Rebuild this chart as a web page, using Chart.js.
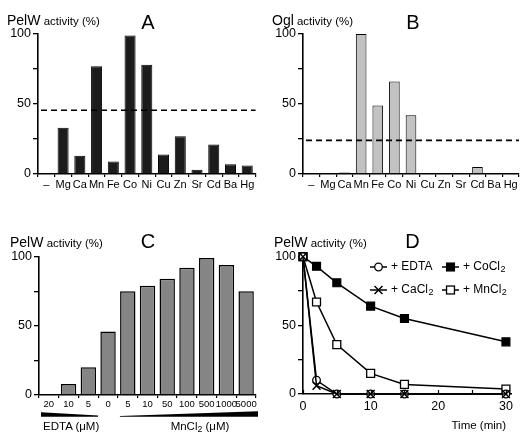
<!DOCTYPE html>
<html><head><meta charset="utf-8">
<script src="https://cdn.jsdelivr.net/npm/chart.js@4.4.0/dist/chart.umd.min.js"></script>
<style>
html,body{margin:0;padding:0;background:#fff;}
#wrap{position:relative;width:527px;height:438px;overflow:hidden;font-family:'Liberation Sans',Arial,sans-serif;color:#000;}
canvas{position:absolute;left:0;top:0;}
.t{position:absolute;white-space:nowrap;line-height:1.15;}
.s{font-size:0.82em;}
.sub{font-size:0.75em;vertical-align:-0.25em;}
</style></head><body>
<div id="wrap">
<canvas id="cA" width="527" height="438"></canvas>
<canvas id="cB" width="527" height="438"></canvas>
<canvas id="cC" width="527" height="438"></canvas>
<canvas id="cD" width="527" height="438"></canvas>
</div>
<script>
// ---------- DATA ----------
const metals = ['–','Mg','Ca','Mn','Fe','Co','Ni','Cu','Zn','Sr','Cd','Ba','Hg'];
const pelwMetal = [0,33,13,77,9,99,78,14,27,3,21,7,6];
const oglMetal = [0,0,1,100,49,66,42,0,0,0.5,5,0,0];
const pelwControl = 45.5;
const oglControl = 24;
const concLabels = ['20','10','5','0','5','10','50','100','500','1000','5000'];
const pelwConc = [0,8,20,46,75,79,84,92,99,94,75];
const timeMin = [0,2,5,10,15,30];
const edta = [100,10,0,0,0,0];
const cacl2 = [100,6,0,0,0,0];
const cocl2 = [100,93,81,64,55,38];
const mncl2 = [100,67,36,15,7,3.6];

const FONT = "'Liberation Sans', Arial, sans-serif";
const W = 527, H = 438;
Chart.defaults.font.family = FONT;
Chart.defaults.color = '#000';

function yAxis(width) {
  return {
    min: 0, max: 100,
    afterFit: s => { s.width = width; },
    ticks: { stepSize: 25, callback: v => (v % 50 === 0 ? v : ''), font: { size: 12.5 }, padding: 2, color:'#000' },
    grid: { drawOnChartArea: false, tickLength: 5, color: '#000', lineWidth: 1.3 },
    border: { color: '#000', width: 1.6 }
  };
}

function thresholdPlugin(value) {
  return {
    id: 'thr',
    afterDatasetsDraw(chart) {
      const y = chart.scales.y.getPixelForValue(value);
      const a = chart.chartArea, ctx = chart.ctx;
      ctx.save();
      ctx.strokeStyle = '#000'; ctx.lineWidth = 1.6; ctx.setLineDash([6, 4]);
      ctx.beginPath(); ctx.moveTo(a.left + 3, y); ctx.lineTo(a.right, y); ctx.stroke();
      ctx.restore();
    }
  };
}

function barChart(id, labels, data, o, extraPlugins) {
  return new Chart(document.getElementById(id), {
    type: 'bar',
    data: { labels, datasets: [{ data, backgroundColor: o.fill, borderColor: '#000', borderWidth: o.bw,
      barPercentage: o.bp, categoryPercentage: 1 }] },
    options: {
      responsive: false, animation: false, devicePixelRatio: 1,
      layout: { padding: { left: 0, top: o.top, right: W - o.right, bottom: H - o.bottom - 22 } },
      plugins: { legend: { display: false }, tooltip: { enabled: false } },
      scales: {
        x: {
          afterFit: s => { s.height = 22; },
          grid: { drawOnChartArea: false, tickLength: 3, color: '#000', lineWidth: 1.2 },
          border: { color: '#000', width: 1.6 },
          ticks: { font: { size: o.xfs }, padding: o.xpad, autoSkip: false, maxRotation: 0, minRotation: 0, color:'#000' }
        },
        y: yAxis(o.left)
      }
    },
    plugins: extraPlugins || []
  });
}

// Panel A
barChart('cA', metals, pelwMetal, { fill: '#1c1c1c', bw: 1, bp: 0.66, top: 34, bottom: 174, left: 38, right: 255.6, xfs: 11, xpad: 1 },
  [thresholdPlugin(pelwControl)]);
// Panel B
barChart('cB', metals, oglMetal, { fill: '#c2c2c2', bw: 1, bp: 0.64, top: 34, bottom: 174, left: 303, right: 519, xfs: 11, xpad: 1 },
  [thresholdPlugin(oglControl)]);

// Panel C with wedges
const wedgePlugin = {
  id: 'wedge',
  afterDraw(chart) {
    const x = chart.scales.x, ctx = chart.ctx;
    const half = (x.getPixelForValue(1) - x.getPixelForValue(0)) / 2;
    const e0 = x.getPixelForValue(0) - half + 2, e1 = x.getPixelForValue(2) + half;
    const m0 = x.getPixelForValue(4) - half + 2, m1 = x.getPixelForValue(10) + half + 2;
    const yb = 416.8;
    ctx.save(); ctx.fillStyle = '#000';
    ctx.beginPath(); ctx.moveTo(e0, yb - 4.6); ctx.lineTo(e1, yb - 1.2); ctx.lineTo(e1, yb); ctx.lineTo(e0, yb); ctx.closePath(); ctx.fill();
    ctx.beginPath(); ctx.moveTo(m0, yb - 0.8); ctx.lineTo(m1, yb - 5.6); ctx.lineTo(m1, yb); ctx.lineTo(m0, yb); ctx.closePath(); ctx.fill();
    ctx.restore();
  }
};
barChart('cC', concLabels, pelwConc, { fill: '#858585', bw: 1.5, bp: 0.78, top: 256.7, bottom: 395, left: 39, right: 256, xfs: 9.5, xpad: 1 },
  [wedgePlugin]);

// Panel D
const dPlugin = {
  id: 'dextra',
  afterDraw(chart) {
    const ctx = chart.ctx, xs = chart.scales.x, a = chart.chartArea;
    ctx.save();
    ctx.strokeStyle = '#000'; ctx.lineWidth = 1.2;
    xs.ticks.forEach(t => {
      const px = Math.round(xs.getPixelForValue(t.value)) + 0.5;
      ctx.beginPath(); ctx.moveTo(px, a.bottom); ctx.lineTo(px, a.bottom - 4); ctx.stroke();
    });
    // legend
    const items = [
      { ds: 1, x: 370, y: 267, t: '+ EDTA', sub: '' },
      { ds: 2, x: 442, y: 267, t: '+ CoCl', sub: '2' },
      { ds: 0, x: 370, y: 290, t: '+ CaCl', sub: '2' },
      { ds: 3, x: 442, y: 290, t: '+ MnCl', sub: '2' }
    ];
    items.forEach(it => {
      const d = chart.data.datasets[it.ds];
      ctx.lineWidth = 1.5; ctx.strokeStyle = '#000';
      ctx.beginPath(); ctx.moveTo(it.x, it.y); ctx.lineTo(it.x + 17, it.y); ctx.stroke();
      const cx = it.x + 8.5, cy = it.y;
      ctx.fillStyle = d.pointBackgroundColor;
      ctx.lineWidth = d.pointBorderWidth;
      if (d.pointStyle === 'circle') {
        ctx.beginPath(); ctx.arc(cx, cy, d.pointRadius, 0, Math.PI * 2); ctx.fill(); ctx.stroke();
      } else if (d.pointStyle === 'rect') {
        const s = d.pointRadius * Math.SQRT1_2;
        ctx.fillRect(cx - s, cy - s, 2 * s, 2 * s); ctx.strokeRect(cx - s, cy - s, 2 * s, 2 * s);
      } else {
        const s = d.pointRadius * Math.SQRT1_2;
        ctx.beginPath(); ctx.moveTo(cx - s, cy - s); ctx.lineTo(cx + s, cy + s);
        ctx.moveTo(cx - s, cy + s); ctx.lineTo(cx + s, cy - s); ctx.stroke();
      }
      ctx.fillStyle = '#000';
      ctx.font = '12px ' + FONT; ctx.textBaseline = 'middle'; ctx.textAlign = 'left';
      ctx.fillText(it.t, it.x + 21, it.y);
      if (it.sub) {
        const w = ctx.measureText(it.t).width;
        ctx.font = '9px ' + FONT;
        ctx.fillText(it.sub, it.x + 21 + w + 0.5, it.y + 3);
      }
    });
    ctx.restore();
  }
};
function series(vals) { return timeMin.map((t, i) => ({ x: t, y: vals[i] })); }
new Chart(document.getElementById('cD'), {
  type: 'line',
  data: { datasets: [
    { data: series(cacl2), pointStyle: 'crossRot', pointRadius: 5.6, pointBackgroundColor: '#000', pointBorderColor: '#000', pointBorderWidth: 1.5, borderColor: '#000', borderWidth: 1.5, clip: false },
    { data: series(edta), pointStyle: 'circle', pointRadius: 3.8, pointBackgroundColor: '#fff', pointBorderColor: '#000', pointBorderWidth: 1.3, borderColor: '#000', borderWidth: 1.5, clip: false },
    { data: series(cocl2), pointStyle: 'rect', pointRadius: 5.6, pointBackgroundColor: '#000', pointBorderColor: '#000', pointBorderWidth: 1.2, borderColor: '#000', borderWidth: 1.5, clip: false },
    { data: series(mncl2), pointStyle: 'rect', pointRadius: 5.6, pointBackgroundColor: '#fff', pointBorderColor: '#000', pointBorderWidth: 1.3, borderColor: '#000', borderWidth: 1.5, clip: false }
  ] },
  options: {
    responsive: false, animation: false, devicePixelRatio: 1,
    layout: { padding: { left: 0, top: 256.7, right: W - 511, bottom: H - 394 - 22 } },
    plugins: { legend: { display: false }, tooltip: { enabled: false } },
    elements: { line: { tension: 0 } },
    scales: {
      x: {
        type: 'linear', min: 0, max: 30.75,
        afterFit: s => { s.height = 22; },
        grid: { display: false, drawTicks: false },
        border: { color: '#000', width: 1.6 },
        ticks: { stepSize: 5, includeBounds: false, callback: v => (v % 10 === 0 ? v : ''), font: { size: 12.5 }, padding: 5, maxRotation: 0, color:'#000' }
      },
      y: yAxis(303)
    }
  },
  plugins: [dPlugin]
});

// ---------- TEXT ----------
const wrap = document.getElementById('wrap');
function addText(html, x, base, size, align) {
  const d = document.createElement('div');
  d.className = 't'; d.innerHTML = html; d.style.fontSize = size + 'px';
  d.style.top = (base - 0.9215 * size) + 'px';
  if (align === 'center') { d.style.left = x + 'px'; d.style.transform = 'translateX(-50%)'; }
  else if (align === 'right') { d.style.right = (W - x) + 'px'; }
  else d.style.left = x + 'px';
  wrap.appendChild(d);
}
addText('PelW<span class="s"> activity (%)</span>', 7, 25, 14);
addText('A', 148, 29, 20, 'center');
addText('Ogl<span class="s"> activity (%)</span>', 272, 25, 14);
addText('B', 413, 29, 20, 'center');
addText('PelW<span class="s"> activity (%)</span>', 10, 246.7, 14);
addText('C', 148, 248, 20, 'center');
addText('PelW<span class="s"> activity (%)</span>', 274, 246.7, 14);
addText('D', 412.5, 248, 20, 'center');
addText('EDTA (&mu;M)', 43, 431, 11.5);
addText('MnCl<span class="sub">2</span> (&mu;M)', 200, 431, 11.5, 'center');
addText('Time (min)', 506, 430, 11.5, 'right');
</script>
</body></html>
